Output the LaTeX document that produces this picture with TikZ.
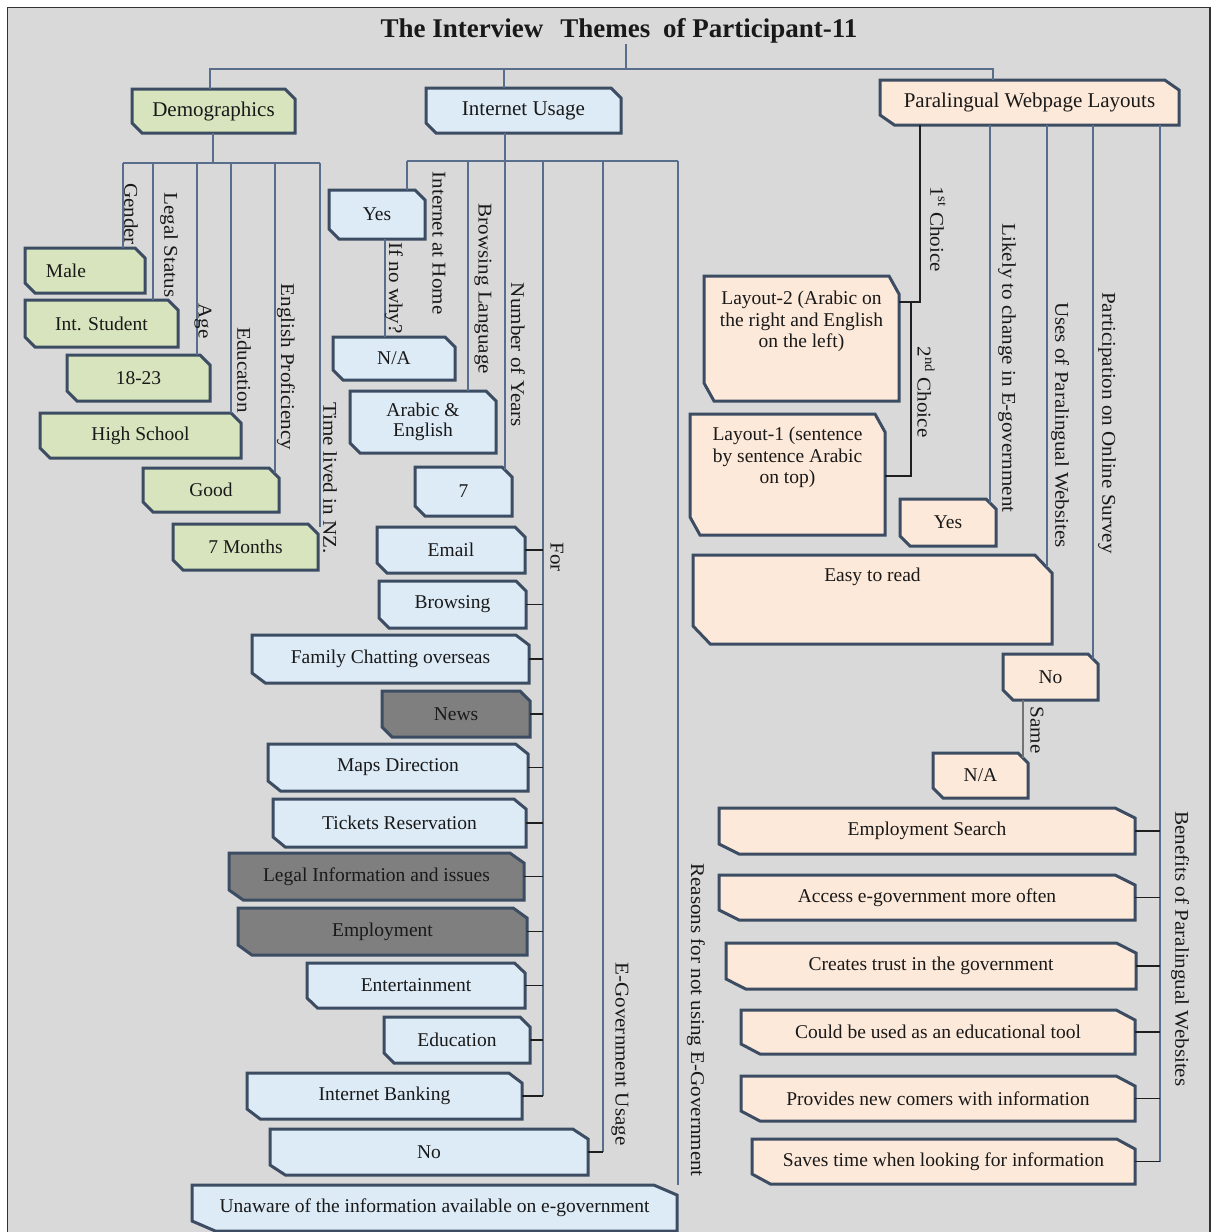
\documentclass[tikz,border=0pt]{standalone}
\usepackage{fontspec}
\setmainfont{Liberation Serif}
\usepackage{graphicx}
\usetikzlibrary{calc}

\definecolor{bgc}{RGB}{217,217,217}
\definecolor{fillG}{RGB}{215,228,189}
\definecolor{fillB}{RGB}{221,235,247}
\definecolor{fillP}{RGB}{253,233,217}
\definecolor{fillD}{RGB}{127,127,127}
\definecolor{boxedge}{RGB}{60,76,98}
\definecolor{connc}{RGB}{88,110,140}
\definecolor{ink}{RGB}{25,25,25}

\pgfdeclarelayer{back}
\pgfdeclarelayer{boxes}
\pgfsetlayers{back,boxes,main}

\tikzset{
  conn/.style={draw=connc, line width=1.3pt},
  darkconn/.style={draw=black!88, line width=1.3pt},
  greyconn/.style={draw=black!55, line width=1.3pt},
  boxline/.style={draw=boxedge, line width=3pt, line join=miter},
  boxtext/.style={inner sep=0pt, outer sep=0pt, align=center, text=ink,
    font=\fontsize{19.5}{21.5}\selectfont},
  headtext/.style={font=\fontsize{21}{24}\selectfont},
  vlab/.style={rotate=-90, inner sep=0pt, text=ink,
    font=\fontsize{19.5}{21.5}\selectfont},
}

% box with snipped top-right and bottom-left corners:
% [node options]{name}{left}{top}{right}{bottom}{fill}{text}
\newcommand\snipbox[8][]{%
  \node[boxtext, minimum width={(#5-#3)*1pt}, minimum height={(#6-#4)*1pt}, #1]
    (#2) at ({(#3+#5)/2},{(#4+#6)/2}) {#8};
  \pgfmathsetmacro\snipdx{max(10,0.048*(#5-#3))}%
  \pgfmathsetmacro\snipdy{(#6-#4)>80 ? 18 : 10}%
  \begin{pgfonlayer}{boxes}
    \path[boxline, fill=#7] (#2.north west)
      -- ([xshift=-\snipdx pt]#2.north east)
      -- ([yshift=-\snipdy pt]#2.north east)
      -- (#2.south east)
      -- ([xshift=\snipdx pt]#2.south west)
      -- ([yshift=\snipdy pt]#2.south west) -- cycle;
  \end{pgfonlayer}
}
% text set at the top of a tall box
\newcommand\toptext[3]{\parbox[c][#1][t]{#2}{\centering #3}}
% rotated branch label: {name}{x}{y}{text}
\newcommand\vlabel[4]{\node[vlab] (#1) at (#2,#3) {\scalebox{1.08}[1]{#4}};}

\begin{document}
\begin{tikzpicture}[x=1pt,y=-1pt]
\useasboundingbox (0,0) rectangle (1218,1232);

\begin{pgfonlayer}{back}
  \fill[white] (0,0) rectangle (1218,1232);
  \fill[bgc] (7.5,7.5) rectangle (1210,1232);
  \draw[black!80, line width=1.5pt] (7.5,1232) -- (7.5,7.5) -- (1210,7.5) -- (1210,1232);
\end{pgfonlayer}

% title
\node[inner sep=0pt, text=ink, font=\fontsize{27}{30}\selectfont\bfseries] (title) at (619,31)
  {The Interview\hspace{0.63em}Themes\hspace{0.48em}of Participant-11};

% main themes
\snipbox[headtext]{demo}{132}{89}{295}{133}{fillG}{Demographics}
\snipbox[headtext]{inet}{426}{88}{621}{133}{fillB}{Internet Usage}
\snipbox[headtext]{para}{880}{80}{1179}{125}{fillP}{Paralingual Webpage Layouts}

\coordinate (tbl) at (210,69);
\coordinate (tbm) at (504,69);
\coordinate (tbt) at (626,69);
\coordinate (tbr) at (993,69);
\draw[conn] (tbt |- title.south) -- (tbt);
\draw[conn] (tbl |- demo.north) -- (tbl) -- (tbr) -- (tbr |- para.north);
\draw[conn] (tbm) -- (tbm |- inet.north);

% ---------------- Demographics ----------------
\snipbox{male}{25}{248}{145}{293}{fillG}{Male\hspace{38pt}}
\snipbox{intst}{25}{300}{178}{347}{fillG}{Int. Student}
\snipbox{agev}{67}{355}{210}{401}{fillG}{18-23}
\snipbox{hs}{40}{413}{241}{458}{fillG}{High School}
\snipbox{good}{143}{468}{279}{512}{fillG}{Good}
\snipbox{months}{173}{524}{318}{570}{fillG}{7 Months}

\coordinate (dbus) at (213,163);
\draw[conn] (demo.south -| dbus) -- (dbus);
\draw[conn] (123,163) -- (320,163);
\draw[conn] (123,163) -- (123,0 |- male.north);
\draw[conn] (153,163) -- (153,0 |- intst.north);
\draw[conn] (197,163) -- (197,0 |- agev.north);
\draw[conn] (231,163) -- (231,0 |- hs.north);
\draw[conn] (275,163) -- ($(275,0 |- good.north)+(0,5)$);
\draw[conn] (320,163) -- ($(320,0 |- months.north)+(0,3)$);

\vlabel{lgender}{131}{214}{Gender}
\vlabel{llegal}{169}{245}{Legal Status}
\vlabel{lage}{203}{321}{Age}
\vlabel{ledu}{244}{370}{Education}
\vlabel{leng}{286}{367}{English Proficiency}
\vlabel{ltime}{330}{478}{Time lived in NZ.}

% ---------------- Internet Usage ----------------
\snipbox{yes}{329}{190}{425}{239}{fillB}{Yes}
\snipbox{na}{333}{337}{455}{380}{fillB}{N/A}
\snipbox{arab}{350}{391}{496}{453}{fillB}{Arabic \&\\[-2pt]English}
\snipbox{seven}{415}{467}{512}{516}{fillB}{7}
\snipbox{email}{377}{527}{525}{573}{fillB}{Email}
\snipbox{brow}{379}{581}{526}{628}{fillB}{Browsing}
\snipbox{fam}{252}{635}{529}{683}{fillB}{Family Chatting overseas}
\snipbox{news}{382}{691}{530}{737}{fillD}{News}
\snipbox{maps}{268}{744}{528}{791}{fillB}{Maps Direction}
\snipbox{tick}{273}{799}{526}{847}{fillB}{Tickets Reservation}
\snipbox{legal}{229}{853}{524}{900}{fillD}{Legal Information and issues}
\snipbox{emp}{238}{908}{527}{955}{fillD}{Employment}
\snipbox{ent}{307}{963}{525}{1008}{fillB}{Entertainment}
\snipbox{edu}{384}{1017}{530}{1063}{fillB}{Education}
\snipbox{ibank}{247}{1073}{522}{1119}{fillB}{Internet Banking}
\snipbox{noe}{270}{1129}{588}{1175}{fillB}{No}
\snipbox{unaware}{192}{1185}{677}{1231}{fillB}{Unaware of the information available on e-government}

\coordinate (ibus) at (505,161);
\draw[conn] (inet.south -| ibus) -- (ibus);
\draw[conn] (407,161) -- (678,161);
\draw[conn] (407,161) -- (407,0 |- yes.north);
\draw[conn] (468,161) -- (468,0 |- arab.north);
\draw[conn] (ibus) -- ($(505,0 |- seven.north)+(0,3)$);
\draw[conn] (543,161) -- (543,0 |- ibank.east);
\draw[conn] (603,161) -- (603,0 |- noe.east);
\draw[conn] (678,161) -- (678,0 |- unaware.north);
\draw[conn] (385,0 |- yes.south) -- (385,0 |- na.north);
\foreach \n in {email,brow,fam,news,maps,tick,legal,emp,ent,edu,ibank}
  \draw[darkconn] (\n.east) -- (543,0 |- \n.east);
\draw[darkconn] (noe.east) -- (603,0 |- noe.east);

\vlabel{lwhy}{394}{288}{If no why?}
\vlabel{lhome}{439}{243}{Internet at Home}
\vlabel{lbrl}{483}{289}{Browsing Language}
\vlabel{lyears}{518}{355}{Number of Years}
\vlabel{lfor}{557}{557}{For}
\vlabel{legov}{620}{1054}{E-Government Usage}
\vlabel{lreason}{696}{1020}{Reasons for not using E-Government}

% ---------------- Paralingual Webpage Layouts ----------------
\snipbox{lay2}{704}{276}{899}{401}{fillP}{\toptext{95pt}{185pt}{Layout-2 (Arabic on\\the right and English\\on the left)}}
\snipbox{lay1}{690}{414}{885}{535}{fillP}{\toptext{95pt}{185pt}{Layout-1 (sentence\\by sentence Arabic\\on top)}}
\snipbox{yesr}{900}{499}{996}{546}{fillP}{Yes}
\snipbox{easy}{693}{555}{1052}{644}{fillP}{\toptext{63pt}{300pt}{Easy to read}}
\snipbox{nor}{1003}{654}{1098}{700}{fillP}{No}
\snipbox{nar}{933}{753}{1028}{798}{fillP}{N/A}
\snipbox{es}{719}{808}{1135}{854}{fillP}{Employment Search}
\snipbox{acc}{719}{875}{1135}{920}{fillP}{Access e-government more often}
\snipbox{cre}{726}{943}{1136}{989}{fillP}{Creates trust in the government}
\snipbox{cou}{741}{1010}{1135}{1054}{fillP}{Could be used as an educational tool}
\snipbox{pro}{741}{1076}{1135}{1121}{fillP}{Provides new comers with information}
\snipbox{sav}{752}{1139}{1135}{1184}{fillP}{Saves time when looking for information}

\coordinate (c1) at (920,302);
\coordinate (c2) at (911,476);
\draw[darkconn] (920,0 |- para.south) -- (c1) -- (lay2.east |- c1);
\draw[darkconn] (911,0 |- c1) -- (c2) -- (lay1.east |- c2);
\draw[conn] (990,0 |- para.south) -- ($(990,0 |- yesr.north)+(0,4)$);
\draw[conn] (1047,0 |- para.south) -- ($(1047,0 |- easy.north)+(0,12)$);
\draw[conn] (1093,0 |- para.south) -- ($(1093,0 |- nor.north)+(0,5)$);
\draw[conn] (1160,0 |- para.south) -- (1160,0 |- sav.east);
\draw[greyconn] (1023,0 |- nor.south) -- ($(1023,0 |- nar.north)+(0,5)$);
\foreach \n in {es,acc,cre,cou,pro,sav}
  \draw[darkconn] (\n.east) -- (1160,0 |- \n.east);

\vlabel{lfirst}{938}{229}{1\textsuperscript{st} Choice}
\vlabel{llikely}{1007}{368}{Likely to change in E-government}
\vlabel{lsecond}{926}{392}{2\textsuperscript{nd} Choice}
\vlabel{luses}{1060}{425}{Uses of Paralingual Websites}
\vlabel{lpart}{1107}{423}{Participation on Online Survey}
\vlabel{lsame}{1037}{730}{Same}
\vlabel{lbenef}{1180}{949}{Benefits of Paralingual Websites}

\end{tikzpicture}
\end{document}
